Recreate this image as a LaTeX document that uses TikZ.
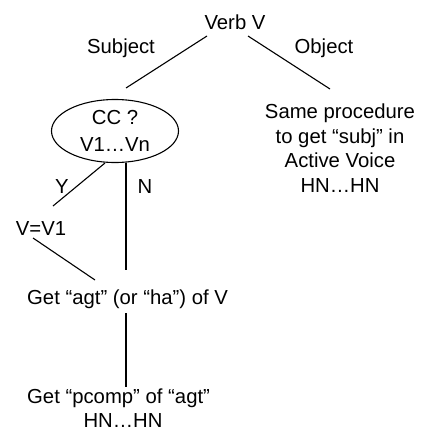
\documentclass[tikz,border=0pt]{standalone}
\usepackage{fontspec}
\setmainfont{Liberation Sans}
\begin{document}
\begin{tikzpicture}[x=1pt,y=-1pt,
  lbl/.style={font=\fontsize{20.3}{24.5}\selectfont, inner sep=0pt, align=center},
  conn/.style={line width=1.1pt, black}]
\useasboundingbox (0,0) rectangle (425,431);
\node[lbl] (verb) at (235,22) {Verb V};
\node[lbl] (subj) at (121,48) {Subject};
\node[lbl] (obj) at (324,48) {Object};
\node[lbl] (same) at (340,148) {Same procedure\\to get “subj” in\\Active Voice\\HN…HN};
\node[lbl, font=\fontsize{20.3}{27}\selectfont] (cc) at (115,131) {CC ?\\V1…Vn};
\draw[conn] (cc.center) ellipse [x radius=63.5, y radius=31.5];
\node[lbl] (y) at (62,187) {Y};
\node[lbl] (n) at (145,187) {N};
\node[lbl] (v1) at (41,229) {V=V1};
\node[lbl, anchor=west] (agt) at (27,299) {Get “agt” (or “ha”) of V};
\node[lbl, anchor=west] (pcomp) at (27,398) {Get “pcomp” of “agt”};
\node[lbl] (hn) at (123,421) {HN…HN};
\coordinate (s1) at (207,36);
\coordinate (s2) at (126,88);
\coordinate (o1) at (248,36);
\coordinate (o2) at (330,89);
\coordinate (y1) at (105,163);
\coordinate (y2) at (53,206);
\coordinate (n1) at (126,163);
\coordinate (n2) at (126,270);
\coordinate (v1a) at (33,238);
\coordinate (v1b) at (95,280);
\coordinate (a1) at (126,313);
\coordinate (a2) at (126,387);
\draw[conn] (s1) -- (s2);
\draw[conn] (o1) -- (o2);
\draw[conn] (y1) -- (y2);
\draw[conn] (n1) -- (n2);
\draw[conn] (v1a) -- (v1b);
\draw[conn] (a1) -- (a2);
\end{tikzpicture}
\end{document}
